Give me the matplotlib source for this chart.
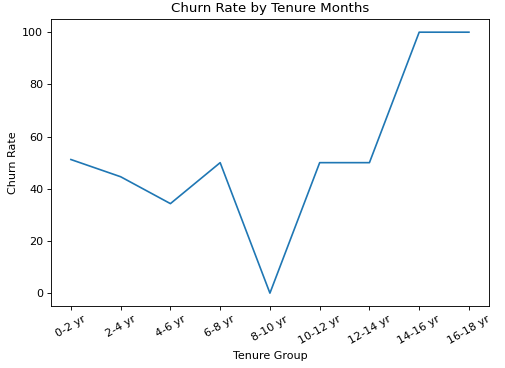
import matplotlib
matplotlib.use("Agg")
import matplotlib.pyplot as plt

tenure_groups = ['0-2 yr', '2-4 yr', '4-6 yr', '6-8 yr', '8-10 yr',
                 '10-12 yr', '12-14 yr', '14-16 yr', '16-18 yr']
churn_rate = [51.2, 44.6, 34.3, 50.0, 0.0, 50.0, 50.0, 100.0, 100.0]

fig = plt.figure(figsize=(505 / 80, 368 / 80), dpi=80)
ax = fig.add_axes([0.101, 0.168, 0.867, 0.780])
ax.plot(tenure_groups, churn_rate)
ax.set_title('Churn Rate by Tenure Months')
ax.set_xlabel('Tenure Group')
ax.set_ylabel('Churn Rate')
plt.xticks(rotation=30)
fig.savefig('out.png', dpi=80)
